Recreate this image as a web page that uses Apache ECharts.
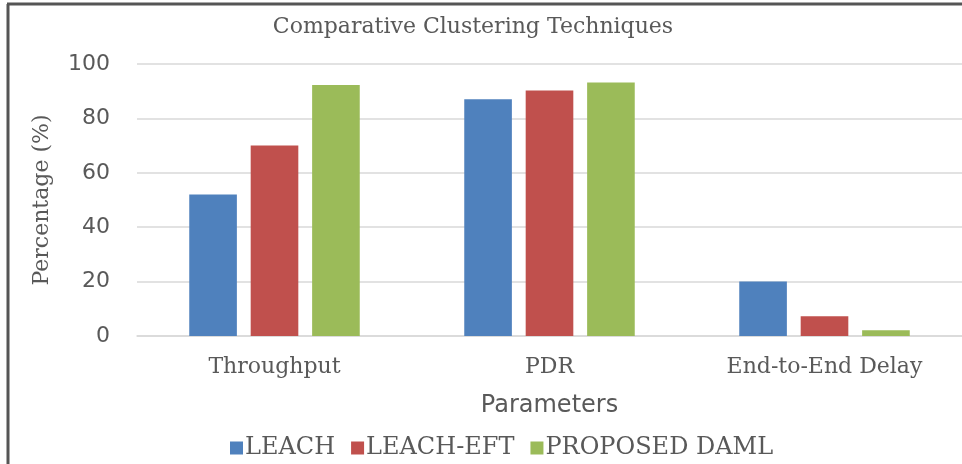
<!DOCTYPE html>
<html>
<head>
<meta charset="utf-8">
<script src="https://cdn.jsdelivr.net/npm/echarts@6/dist/echarts.min.js"></script>
<style>html,body{margin:0;padding:0;background:#fff;}#c{width:962px;height:464px;}</style>
</head>
<body>
<div id="c"></div>
<script>
const categories = ['Throughput', 'PDR', 'End-to-End Delay'];
const leach = [52, 87, 20];
const leachEft = [70, 90.3, 7.3];
const daml = [92.3, 93.2, 2.1];
const yTicks = [0, 20, 40, 60, 80, 100];

const chart = echarts.init(document.getElementById('c'));
const serif = 'DejaVu Serif';
const sans = 'DejaVu Sans';
chart.setOption({
  animation: false,
  backgroundColor: '#ffffff',
  title: {
    text: 'Comparative Clustering Techniques',
    left: 468, top: 11, textAlign: 'center',
    textStyle: { fontFamily: serif, fontSize: 22, fontWeight: 'normal', color: '#595959' }
  },
  legend: {
    left: 225, top: 431,
    itemWidth: 13, itemHeight: 13, itemGap: 16,
    icon: 'rect',
    textStyle: { fontFamily: serif, fontSize: 24, color: '#595959', padding: [0, 0, 0, -3] },
    data: ['LEACH', 'LEACH-EFT', 'PROPOSED DAML']
  },
  grid: { left: 137, right: -10, top: 64, bottom: 128 },
  xAxis: {
    type: 'category',
    data: categories,
    name: 'Parameters',
    nameLocation: 'middle',
    nameGap: 58,
    nameTextStyle: { fontFamily: sans, fontSize: 24, color: '#595959', verticalAlign: 'top' },
    axisLine: { lineStyle: { color: '#d9d9d9', width: 1.5 } },
    axisTick: { show: false },
    axisLabel: { fontFamily: serif, fontSize: 22, color: '#595959', margin: 20 }
  },
  yAxis: {
    type: 'value',
    min: yTicks[0], max: yTicks[yTicks.length - 1], interval: 20,
    name: 'Percentage (%)',
    nameLocation: 'middle',
    nameGap: 84,
    nameTextStyle: { fontFamily: serif, fontSize: 22, color: '#595959' },
    axisLine: { show: false },
    axisTick: { show: false },
    splitLine: { lineStyle: { color: '#d9d9d9', width: 1.5 } },
    axisLabel: { fontFamily: sans, fontSize: 22, color: '#595959', margin: 27 }
  },
  series: [
    { name: 'LEACH', type: 'bar', data: leach, itemStyle: { color: '#4F81BD' }, barGap: '29%', barCategoryGap: '38%' },
    { name: 'LEACH-EFT', type: 'bar', data: leachEft, itemStyle: { color: '#C0504D' }, barGap: '29%', barCategoryGap: '38%' },
    { name: 'PROPOSED DAML', type: 'bar', data: daml, itemStyle: { color: '#9BBB59' }, barGap: '29%', barCategoryGap: '38%' }
  ],
  graphic: [
    { type: 'line', shape: { x1: 8, y1: 4, x2: 8, y2: 464 }, style: { stroke: '#555555', lineWidth: 3 } },
    { type: 'line', shape: { x1: 7, y1: 4, x2: 962, y2: 4 }, style: { stroke: '#555555', lineWidth: 3 } }
  ]
});
</script>
</body>
</html>
